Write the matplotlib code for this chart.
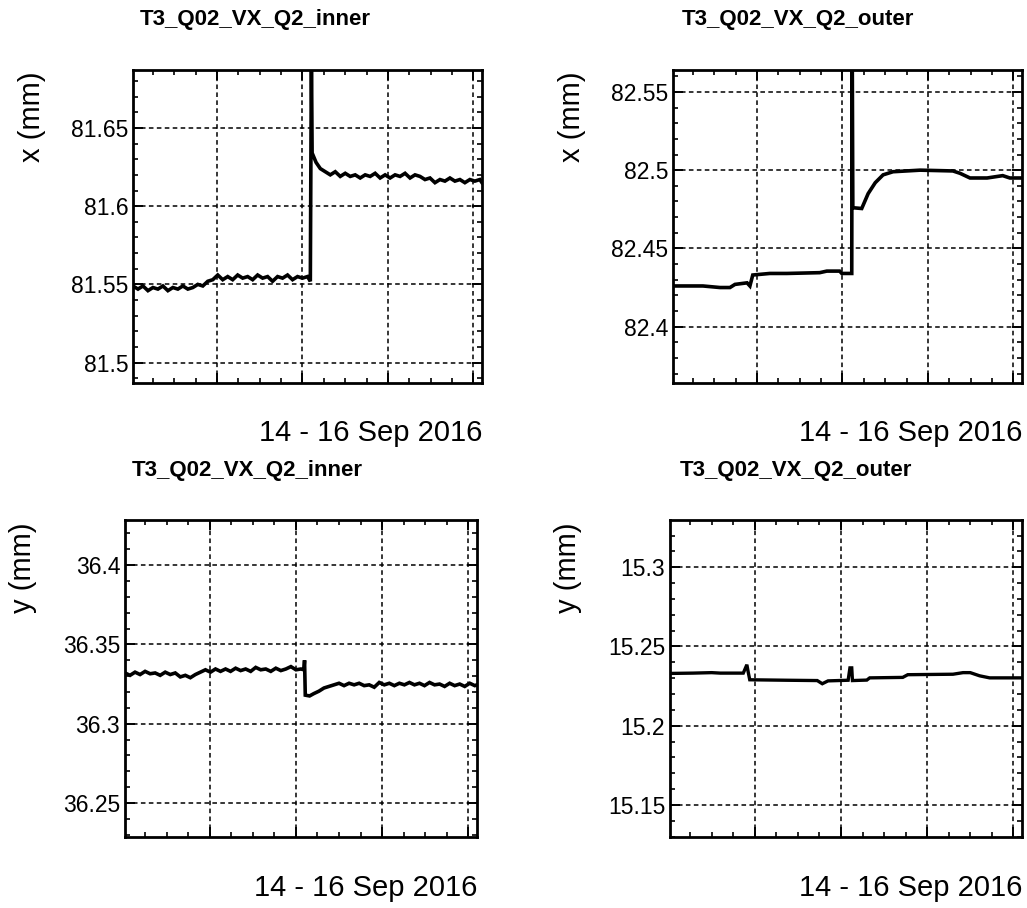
import matplotlib
matplotlib.use("Agg")
import matplotlib.pyplot as plt
from matplotlib.ticker import MultipleLocator, FuncFormatter

plt.rcParams['font.family'] = ['Liberation Sans', 'DejaVu Sans']

# ------------------------------
# data: hours since 14 Sep 2016 00:00, positions in mm
# ------------------------------
t_x_inner = [0.2, 0.9, 1.6, 2.3, 3.0, 3.7, 4.4, 5.1, 5.8, 6.5, 7.2, 7.9, 8.6, 9.3,
             10.0, 10.7, 11.4, 12.1, 12.8, 13.5, 14.2, 14.9, 15.6, 16.3, 17.0,
             17.7, 18.4, 19.1, 19.8, 20.5, 21.2, 21.9, 22.6, 23.3, 24.0, 24.7,
             25.1, 25.25, 25.35,
             25.9, 26.5, 27.2, 27.9, 28.6, 29.3, 30.0, 30.7, 31.4, 32.1, 32.8,
             33.5, 34.2, 34.9, 35.6, 36.3, 37.0, 37.7, 38.4, 39.1, 39.8, 40.5,
             41.2, 41.9, 42.6, 43.3, 44.0, 44.7, 45.4, 46.1, 46.8, 47.5, 48.2,
             48.9, 49.2]
x_inner = [81.549, 81.547, 81.549, 81.546, 81.548, 81.547, 81.549, 81.546, 81.548,
           81.547, 81.549, 81.547, 81.548, 81.550, 81.549, 81.552, 81.553, 81.556,
           81.553, 81.555, 81.553, 81.556, 81.554, 81.555, 81.553, 81.556, 81.554,
           81.555, 81.552, 81.555, 81.554, 81.556, 81.553, 81.555, 81.554, 81.555,
           81.552, 81.700, 81.634,
           81.628, 81.624, 81.622, 81.620, 81.622, 81.619, 81.621, 81.619, 81.620,
           81.618, 81.620, 81.619, 81.621, 81.618, 81.620, 81.618, 81.620, 81.619,
           81.621, 81.618, 81.620, 81.619, 81.617, 81.618, 81.615, 81.617, 81.616,
           81.618, 81.616, 81.617, 81.615, 81.617, 81.616, 81.617, 81.615]

t_x_outer = [0.2, 4.4, 6.8, 8.2, 8.9, 10.6, 11.0, 11.4, 13.8, 16.2, 20.8, 21.8, 23.6,
             23.9, 25.3, 25.35, 25.45, 26.7, 27.6, 28.6, 29.7, 31.1, 34.9, 39.5,
             40.5, 41.9, 44.3, 46.5, 47.5, 49.2]
x_outer = [82.426, 82.426, 82.425, 82.425, 82.427, 82.428, 82.426, 82.433, 82.434,
           82.434, 82.4345, 82.4355, 82.4355, 82.434, 82.434, 82.600, 82.476,
           82.4755, 82.485, 82.492, 82.497, 82.499, 82.500, 82.4995, 82.498,
           82.495, 82.495, 82.4965, 82.495, 82.495]

t_y_inner = [0.2, 0.9, 1.6, 2.3, 3.0, 3.7, 4.4, 5.1, 5.8, 6.5, 7.2, 7.9, 8.6, 9.3,
             10.0, 10.7, 11.4, 12.1, 12.8, 13.5, 14.2, 14.9, 15.6, 16.3, 17.0,
             17.7, 18.4, 19.1, 19.8, 20.5, 21.2, 21.9, 22.6, 23.3, 24.0, 24.7,
             25.1, 25.2, 25.3,
             25.9, 26.5, 27.2, 27.9, 28.6, 29.3, 30.0, 30.7, 31.4, 32.1, 32.8,
             33.5, 34.2, 34.9, 35.6, 36.3, 37.0, 37.7, 38.4, 39.1, 39.8, 40.5,
             41.2, 41.9, 42.6, 43.3, 44.0, 44.7, 45.4, 46.1, 46.8, 47.5, 48.2,
             48.9, 49.2]
y_inner = [36.332, 36.3305, 36.3325, 36.331, 36.333, 36.3315, 36.332, 36.3305,
           36.3325, 36.331, 36.332, 36.3295, 36.3305, 36.329, 36.331, 36.3325,
           36.334, 36.3325, 36.3345, 36.333, 36.3345, 36.333, 36.335, 36.3335,
           36.3345, 36.333, 36.3355, 36.334, 36.3345, 36.333, 36.335, 36.3335,
           36.3345, 36.336, 36.334, 36.3345, 36.334, 36.340, 36.318,
           36.3175, 36.319, 36.3205, 36.3225, 36.3235, 36.3245, 36.3255, 36.324,
           36.3255, 36.3245, 36.3255, 36.324, 36.3245, 36.323, 36.326, 36.3245,
           36.3255, 36.324, 36.3255, 36.3245, 36.326, 36.3245, 36.3255, 36.324,
           36.326, 36.3245, 36.325, 36.3235, 36.3255, 36.324, 36.325, 36.3235,
           36.3255, 36.324, 36.3245]

t_y_outer = [0.2, 3.4, 6.0, 7.2, 10.4, 10.9, 11.1, 11.3, 16.5, 20.7, 21.4, 22.2,
             25.0, 25.25, 25.5, 25.6, 27.6, 28.0, 32.6, 33.3, 39.6, 41.0, 42.0,
             43.3, 44.7, 49.2]
y_outer = [15.233, 15.2332, 15.2335, 15.2332, 15.2332, 15.2385, 15.2335, 15.229,
           15.2287, 15.2285, 15.2265, 15.2283, 15.2287, 15.2365, 15.2365, 15.2285,
           15.2288, 15.2302, 15.2305, 15.2322, 15.2325, 15.2335, 15.2335, 15.2315,
           15.2302, 15.2302]

titles = ["T3_Q02_VX_Q2_inner", "T3_Q02_VX_Q2_outer",
          "T3_Q02_VX_Q2_inner", "T3_Q02_VX_Q2_outer"]
ylabels = ["x (mm)", "x (mm)", "y (mm)", "y (mm)"]
date_label = "14 - 16 Sep 2016"
ylims = [(81.487, 81.687), (82.364, 82.564), (36.2285, 36.4285), (15.1298, 15.3298)]

series = [(t_x_inner, x_inner), (t_x_outer, x_outer),
          (t_y_inner, y_inner), (t_y_outer, y_outer)]
line_widths = [2.6, 2.6, 2.6, 2.4]

# axes rectangles (figure fraction) and title centres
rects = [[0.1295, 0.5782, 0.3398, 0.3447],
         [0.6553, 0.5782, 0.3398, 0.3447],
         [0.1217, 0.0782, 0.3427, 0.3491],
         [0.6524, 0.0782, 0.3427, 0.3491]]
title_pos = [(0.249, 0.978), (0.777, 0.978), (0.241, 0.482), (0.775, 0.482)]

fig = plt.figure(figsize=(10.27, 9.08), dpi=100)

for i in range(4):
    ax = fig.add_axes(rects[i])
    t, v = series[i]
    ax.plot(t, v, color="black", lw=line_widths[i], solid_joinstyle="miter")
    ax.set_xlim(0.2, 49.2)
    ax.set_ylim(*ylims[i])

    ax.xaxis.set_major_locator(MultipleLocator(12))
    ax.xaxis.set_minor_locator(MultipleLocator(3))
    ax.yaxis.set_major_locator(MultipleLocator(0.05))
    ax.yaxis.set_minor_locator(MultipleLocator(0.01))
    ax.yaxis.set_major_formatter(FuncFormatter(lambda val, pos: "%g" % round(val, 4)))
    ax.set_xticklabels([])

    ax.tick_params(which="both", direction="in", top=True, right=True, colors="black")
    ax.tick_params(which="major", length=7.5, width=1.4, labelsize=16.5, pad=3.5)
    ax.tick_params(which="minor", length=3.8, width=1.2)
    for s in ax.spines.values():
        s.set_linewidth(2.0)
        s.set_color("black")

    ax.grid(True, which="major", color="black", lw=1.1, linestyle=(0, (3, 2.2)))

    ax.set_ylabel(ylabels[i], fontsize=21, va="center")
    ax.yaxis.set_label_coords(-0.29, 0.85)
    ax.set_xlabel(date_label, fontsize=21, ha="right", va="center")
    ax.xaxis.set_label_coords(1.0, -0.16)

    fig.text(title_pos[i][0], title_pos[i][1], titles[i], fontsize=16,
             fontweight="bold", ha="center", va="center")

fig.savefig("out.png", dpi=100)
